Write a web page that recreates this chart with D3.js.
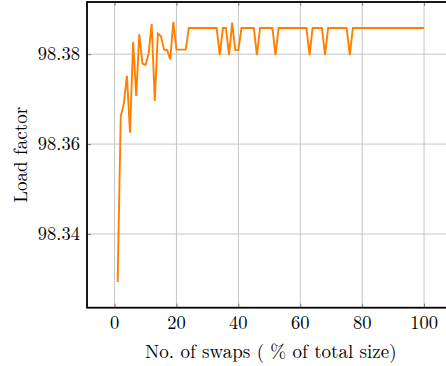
<!DOCTYPE html>
<html>
<head>
<meta charset="utf-8">
<script src="https://cdn.jsdelivr.net/npm/d3@7"></script>
<style>
  body { margin: 0; background: #fff; }
  svg { display: block; }
  svg text { font-family: "Latin Modern Roman", "Liberation Serif", serif; }
</style>
</head>
<body>
<div id="chart"></div>
<script>
// swaps in % of total size
const swaps = d3.range(1, 101);
// load factor at each swap percentage
const loadFactor = [
  98.3293, 98.3661, 98.3690, 98.3752, 98.3625, 98.3827, 98.3707, 98.3844, 98.3779, 98.3776,
  98.3801, 98.3867, 98.3696, 98.3846, 98.3840, 98.3810, 98.3809, 98.3788, 98.3872, 98.3810,
  98.3810, 98.3810, 98.3810, 98.3858, 98.3858, 98.3858, 98.3858, 98.3858, 98.3858, 98.3858,
  98.3858, 98.3858, 98.3858, 98.3798, 98.3858, 98.3858, 98.3798, 98.3870, 98.3809, 98.3809,
  98.3858, 98.3858, 98.3858, 98.3858, 98.3858, 98.3798, 98.3858, 98.3858, 98.3858, 98.3858,
  98.3858, 98.3798, 98.3858, 98.3858, 98.3858, 98.3858, 98.3858, 98.3858, 98.3858, 98.3858,
  98.3858, 98.3858, 98.3798, 98.3858, 98.3858, 98.3858, 98.3858, 98.3798, 98.3858, 98.3858,
  98.3858, 98.3858, 98.3858, 98.3858, 98.3858, 98.3798, 98.3858, 98.3858, 98.3858, 98.3858,
  98.3858, 98.3858, 98.3858, 98.3858, 98.3858, 98.3858, 98.3858, 98.3858, 98.3858, 98.3858,
  98.3858, 98.3858, 98.3858, 98.3858, 98.3858, 98.3858, 98.3858, 98.3858, 98.3858, 98.3858
];
const xTicks = [0, 20, 40, 60, 80, 100];
const yTicks = [98.34, 98.36, 98.38];

const width = 446;
const height = 366;
const plot = { left: 87, right: 454.7, top: 2, bottom: 307.7 };
const font = '"Latin Modern Roman", "Liberation Serif", serif';

const svg = d3.select('#chart')
    .append('svg')
    .attr('width', width)
    .attr('height', height);

const xScale = d3.scaleLinear()
    .domain([-8.9, 109.9])
    .range([plot.left, plot.right]);

const yScale = d3.scaleLinear()
    .domain([98.3236, 98.3916])
    .range([plot.bottom, plot.top]);

// grid
const grid = svg.append('g').attr('stroke', '#bfbfbf').attr('stroke-width', 0.9);
grid.selectAll('.gx')
    .data(xTicks)
    .enter().append('line')
    .attr('x1', d => xScale(d)).attr('x2', d => xScale(d))
    .attr('y1', plot.top).attr('y2', plot.bottom);
grid.selectAll('.gy')
    .data(yTicks)
    .enter().append('line')
    .attr('x1', plot.left).attr('x2', plot.right)
    .attr('y1', d => yScale(d)).attr('y2', d => yScale(d));

// axes with inward ticks, labels drawn separately
const xAxisB = d3.axisBottom(xScale).tickValues(xTicks).tickSize(-4).tickFormat('');
const xAxisT = d3.axisTop(xScale).tickValues(xTicks).tickSize(-4).tickFormat('');
const yAxisL = d3.axisLeft(yScale).tickValues(yTicks).tickSize(-4).tickFormat('');
const yAxisR = d3.axisRight(yScale).tickValues(yTicks).tickSize(-4).tickFormat('');

[[xAxisB, `translate(0,${plot.bottom})`], [xAxisT, `translate(0,${plot.top})`],
 [yAxisL, `translate(${plot.left},0)`], [yAxisR, `translate(${plot.right},0)`]]
    .forEach(([ax, tr]) => {
        const g = svg.append('g').attr('transform', tr).call(ax);
        g.select('.domain').remove();
        g.selectAll('.tick line').attr('stroke', '#7f7f7f').attr('stroke-width', 1);
    });

// line
const line = d3.line()
    .x((d, i) => xScale(swaps[i]))
    .y(d => yScale(d));

svg.append('path')
    .datum(loadFactor)
    .attr('fill', 'none')
    .attr('stroke', '#ff8000')
    .attr('stroke-width', 1.9)
    .attr('stroke-linejoin', 'miter')
    .attr('d', line);

// frame
svg.append('rect')
    .attr('x', plot.left).attr('y', plot.top)
    .attr('width', plot.right - plot.left).attr('height', plot.bottom - plot.top)
    .attr('fill', 'none')
    .attr('stroke', '#000')
    .attr('stroke-width', 1.8);

// tick labels
svg.selectAll('.xl')
    .data(xTicks)
    .enter().append('text')
    .style('font-family', font)
    .style('font-size', '18.5px')
    .attr('x', d => xScale(d))
    .attr('y', 329)
    .attr('text-anchor', 'middle')
    .text(d => d);

svg.selectAll('.yl')
    .data(yTicks)
    .enter().append('text')
    .style('font-family', font)
    .style('font-size', '18.5px')
    .attr('x', 80)
    .attr('y', d => yScale(d) + 6)
    .attr('text-anchor', 'end')
    .text(d => d3.format('.2f')(d));

// axis titles
svg.append('text')
    .style('font-family', font)
    .style('font-size', '19px')
    .attr('x', (plot.left + plot.right) / 2)
    .attr('y', 358)
    .attr('text-anchor', 'middle')
    .text('No. of swaps ( % of total size)');

svg.append('text')
    .style('font-family', font)
    .style('font-size', '19px')
    .attr('transform', `translate(27,${(plot.top + plot.bottom) / 2}) rotate(-90)`)
    .attr('text-anchor', 'middle')
    .text('Load factor');
</script>
</body>
</html>
